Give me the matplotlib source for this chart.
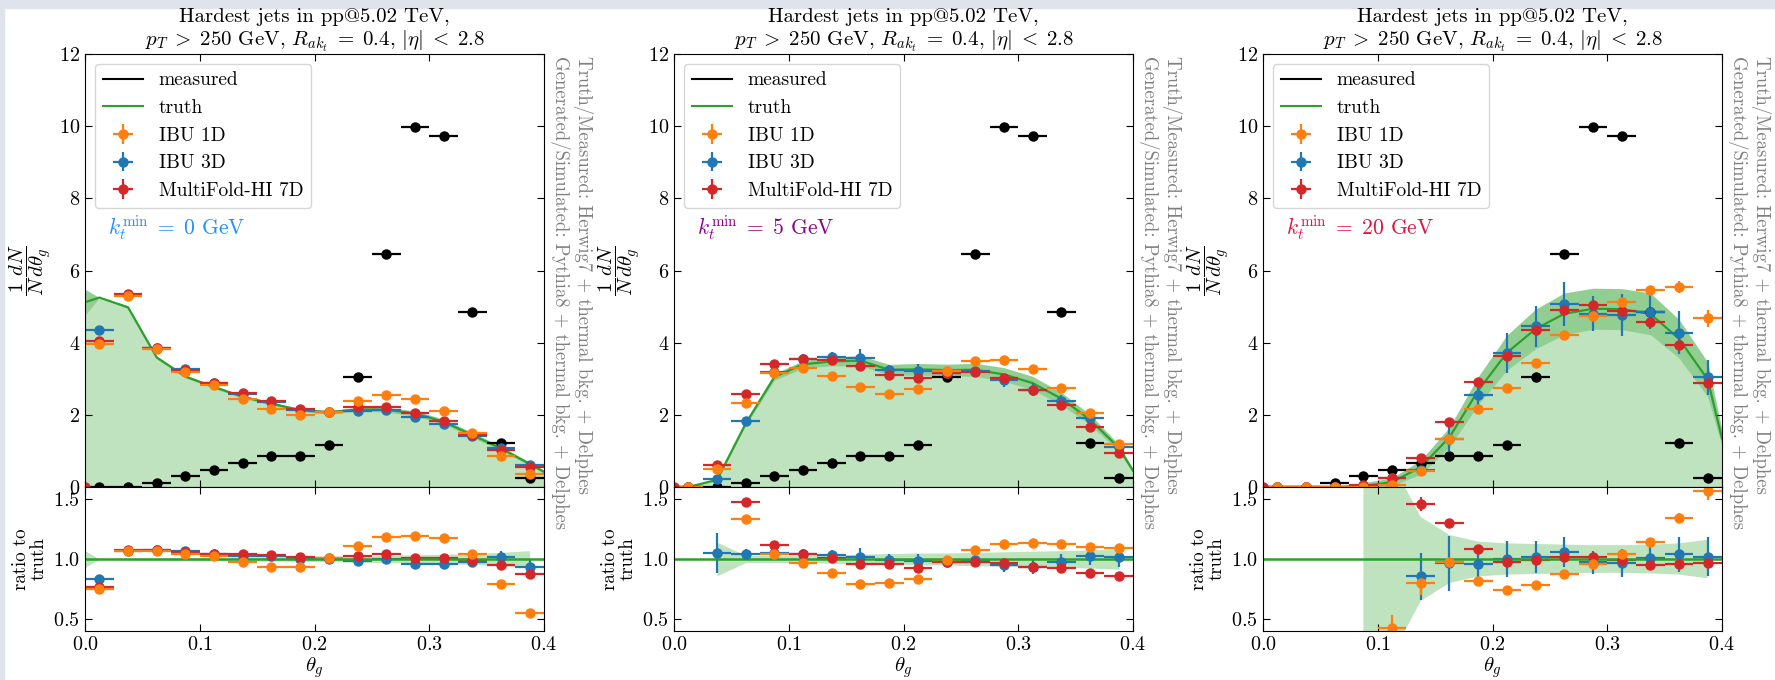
import numpy as np
import matplotlib
matplotlib.use("Agg")
import matplotlib.pyplot as plt
from matplotlib.lines import Line2D
from matplotlib.patches import Rectangle

plt.rcParams["font.family"] = ["cmr10", "DejaVu Serif"]
plt.rcParams["mathtext.fontset"] = "cm"
plt.rcParams["axes.formatter.use_mathtext"] = True
plt.rcParams["font.size"] = 14.5

# binning in theta_g
edges = np.linspace(0.0, 0.4, 17)
centers = 0.5 * (edges[1:] + edges[:-1])
half_width = 0.5 * (edges[1] - edges[0])
# truth curve is drawn at theta_g = 0, the bin centres and the upper edge
x_truth = np.concatenate([[0.0], centers, [0.4]])

kt_labels = ["0", "5", "20"]
kt_colors = ["dodgerblue", "darkmagenta", "crimson"]

# measured (same for every panel)
measured = [0.0, 0.01, 0.12, 0.30, 0.47, 0.66, 0.86, 0.86, 1.16, 3.04,
            6.47, 9.98, 9.74, 4.84, 1.22, 0.25]

# truth and its relative uncertainty (points on x_truth)
truth = [
    [5.12, 5.25, 4.98, 3.59, 3.06, 2.77, 2.50, 2.31, 2.13, 2.07, 2.15, 2.14,
     2.04, 1.81, 1.44, 1.07, 0.64, 0.42],
    [0.0, 0.0, 0.20, 1.76, 3.05, 3.40, 3.48, 3.50, 3.25, 3.26, 3.24, 3.25,
     3.12, 2.88, 2.45, 1.87, 1.09, 0.45],
    [0.0, 0.0, 0.0, 0.0, 0.02, 0.14, 0.55, 1.38, 2.67, 3.72, 4.38, 4.80,
     4.94, 4.93, 4.80, 4.11, 2.98, 1.35],
]
truth_rel = [
    [0.07, 0.0, 0.008, 0.01, 0.012, 0.014, 0.016, 0.018, 0.02, 0.022, 0.025,
     0.03, 0.035, 0.04, 0.045, 0.055, 0.07, 0.1],
    [np.nan, np.nan, 0.14, 0.03, 0.03, 0.03, 0.035, 0.04, 0.045, 0.05, 0.05,
     0.055, 0.06, 0.065, 0.07, 0.075, 0.085, 0.1],
    [np.nan, np.nan, np.nan, np.nan, 5.0, 0.8, 0.35, 0.2, 0.145, 0.13, 0.125,
     0.12, 0.115, 0.115, 0.12, 0.13, 0.16, 0.16],
]

# unfolded results (bin centres)
ibu1d = [
    [3.95, 5.30, 3.82, 3.18, 2.83, 2.43, 2.15, 1.99, 2.09, 2.39, 2.54, 2.43,
     2.12, 1.50, 0.85, 0.35],
    [0.0, 0.50, 2.34, 3.17, 3.29, 3.08, 2.78, 2.59, 2.71, 3.21, 3.50, 3.52,
     3.26, 2.75, 2.06, 1.19],
    [0.0, 0.0, 0.0, 0.0, 0.06, 0.44, 1.34, 2.17, 2.75, 3.44, 4.22, 4.73,
     5.13, 5.47, 5.53, 4.67],
]
ibu3d = [
    [4.36, 5.33, 3.85, 3.27, 2.88, 2.57, 2.36, 2.13, 2.07, 2.12, 2.14, 1.95,
     1.74, 1.41, 1.09, 0.60],
    [0.0, 0.21, 1.83, 3.20, 3.55, 3.60, 3.57, 3.23, 3.21, 3.17, 3.22, 2.96,
     2.70, 2.38, 1.91, 1.11],
    [0.0, 0.0, 0.0, 0.0, 0.26, 0.47, 1.33, 2.55, 3.72, 4.45, 5.08, 4.80,
     4.77, 4.86, 4.28, 3.04],
]
multifold = [
    [4.04, 5.35, 3.86, 3.23, 2.89, 2.61, 2.39, 2.16, 2.09, 2.21, 2.23, 2.06,
     1.83, 1.43, 1.02, 0.56],
    [0.0, 0.60, 2.59, 3.41, 3.54, 3.51, 3.36, 3.11, 3.01, 3.15, 3.18, 3.02,
     2.69, 2.26, 1.65, 0.94],
    [0.0, 0.0, 0.0, 0.05, 0.24, 0.80, 1.79, 2.90, 3.64, 4.36, 4.90, 5.04,
     4.88, 4.56, 3.93, 2.87],
]
multifold_at_zero = [0.0, 0.0, 0.0]

# relative errors of the unfolded points
ibu1d_rel = [
    [0.005] * 16,
    [0.005] * 16,
    [0, 0, 0, 0, 0.25, 0.12, 0.03, 0.02, 0.02, 0.02, 0.02, 0.02, 0.02, 0.02,
     0.03, 0.05],
]
ibu3d_rel = [
    [0.01, 0.01, 0.01, 0.012, 0.012, 0.015, 0.015, 0.02, 0.02, 0.03, 0.03,
     0.03, 0.035, 0.04, 0.05, 0.06],
    [0.0, 0.16, 0.04, 0.03, 0.04, 0.04, 0.07, 0.05, 0.06, 0.05, 0.05, 0.06,
     0.07, 0.07, 0.07, 0.08],
    [0, 0, 0, 0, 0.1, 0.23, 0.24, 0.12, 0.15, 0.13, 0.12, 0.1, 0.12, 0.1,
     0.14, 0.16],
]
multifold_rel = [
    [0.01] * 16,
    [0.0, 0.02, 0.02, 0.015, 0.015, 0.015, 0.015, 0.015, 0.015, 0.015, 0.015,
     0.015, 0.015, 0.015, 0.02, 0.02],
    [0, 0, 0, 0, 0.05, 0.04, 0.02, 0.02, 0.02, 0.02, 0.02, 0.02, 0.02, 0.02,
     0.02, 0.02],
]

title = ("Hardest jets in pp@5.02 TeV,\n"
         r"$p_T\;>\;250$ GeV, $R_{ak_t}\;=\;0.4$, $|\eta|\;<\;2.8$")
side_text = ("Truth/Measured: Herwig7 + thermal bkg. + Delphes\n"
             "Generated/Simulated: Pythia8 + thermal bkg. + Delphes")

W, H = 1775, 680
fig = plt.figure(figsize=(W / 100, H / 100), dpi=100)

# screenshot frame strips
fig.patches.append(Rectangle((0, 1 - 8 / H), 1, 8 / H, transform=fig.transFigure,
                             color="#dfe4ec", zorder=-10))
fig.patches.append(Rectangle((0, 0), 4 / W, 1, transform=fig.transFigure,
                             color="#dfe4ec", zorder=-10))

lefts = [85, 674, 1263]
ax_w = 459
ebar = dict(fmt="o", ms=6.5, elinewidth=1.6, capsize=0)

for i in range(3):
    l = lefts[i]
    ax = fig.add_axes([l / W, (H - 487) / H, ax_w / W, 433 / H])
    axr = fig.add_axes([l / W, (H - 631) / H, ax_w / W, 144 / H], sharex=ax)

    tr = np.array(truth[i])
    rel = np.array(truth_rel[i])
    err = np.nan_to_num(tr * rel)

    # truth with uncertainty band
    ax.fill_between(x_truth, 0, tr + err, color="tab:green", alpha=0.3, lw=0)
    ax.fill_between(x_truth, tr - err, tr + err, color="tab:green", alpha=0.3, lw=0)
    ax.plot(x_truth, tr, color="tab:green", lw=1.6)

    # measured
    ax.errorbar(centers, measured, xerr=half_width, color="k", **ebar)

    tr_c = tr[1:-1]
    series = [
        (ibu3d[i], ibu3d_rel[i], "tab:blue"),
        (multifold[i], multifold_rel[i], "tab:red"),
        (ibu1d[i], ibu1d_rel[i], "tab:orange"),
    ]
    handles = {}
    for vals, vrel, c in series:
        vals = np.array(vals)
        yerr = vals * np.array(vrel)
        h = ax.errorbar(centers, vals, xerr=half_width, yerr=yerr, color=c, **ebar)
        handles[c] = h
        with np.errstate(divide="ignore", invalid="ignore"):
            ratio = np.where(tr_c > 0, vals / tr_c, np.nan)
            ratio_err = np.where(tr_c > 0, yerr / tr_c, np.nan)
        axr.errorbar(centers, ratio, xerr=half_width, yerr=ratio_err, color=c, **ebar)
        if c == "tab:red":
            ax.errorbar([0.0], [multifold_at_zero[i]], color=c, **ebar)

    # ratio panel
    axr.fill_between(x_truth[:-1], 1 - rel[:-1], 1 + rel[:-1],
                     color="tab:green", alpha=0.3, lw=0)
    axr.axhline(1.0, color="tab:green", lw=1.8)

    ax.set_xlim(0, 0.4)
    ax.set_ylim(0, 12)
    ax.set_yticks(np.arange(0, 13, 2))
    ax.set_xticks([0.0, 0.1, 0.2, 0.3, 0.4])
    ax.tick_params(direction="in", top=True, right=True, length=5,
                   labelbottom=False)
    axr.set_ylim(0.4, 1.6)
    axr.set_yticks([0.5, 1.0, 1.5])
    axr.tick_params(direction="in", top=True, right=True, length=5)

    ax.set_ylabel(r"$\dfrac{1}{N}\dfrac{dN}{d\theta_g}$", fontsize=15)
    axr.set_ylabel("ratio to\ntruth", fontsize=13.6, linespacing=1.0)
    axr.set_xlabel(r"$\theta_g$", fontsize=15)
    axr.xaxis.set_label_coords(0.5, -0.17)
    ax.set_title(title, fontsize=15, pad=3)

    leg_handles = [Line2D([], [], color="k", lw=1.5),
                   Line2D([], [], color="tab:green", lw=1.5),
                   handles["tab:orange"], handles["tab:blue"], handles["tab:red"]]
    leg_labels = ["measured", "truth", "IBU 1D", "IBU 3D", "MultiFold-HI 7D"]
    ax.legend(leg_handles, leg_labels, loc="upper left", fontsize=14,
              labelspacing=0.5, handlelength=2.1)

    ax.text(0.05, 0.582, r"$k_t^{\mathrm{min}}\;=\;%s$ GeV" % kt_labels[i],
            color=kt_colors[i], transform=ax.transAxes, va="baseline", ha="left",
            fontsize=15.5)
    ax.text(1.012, 0.995, side_text, color="gray", rotation=270, fontsize=13.5,
            transform=ax.transAxes, va="top", ha="left", multialignment="left")

fig.savefig("out.png", dpi=100)
